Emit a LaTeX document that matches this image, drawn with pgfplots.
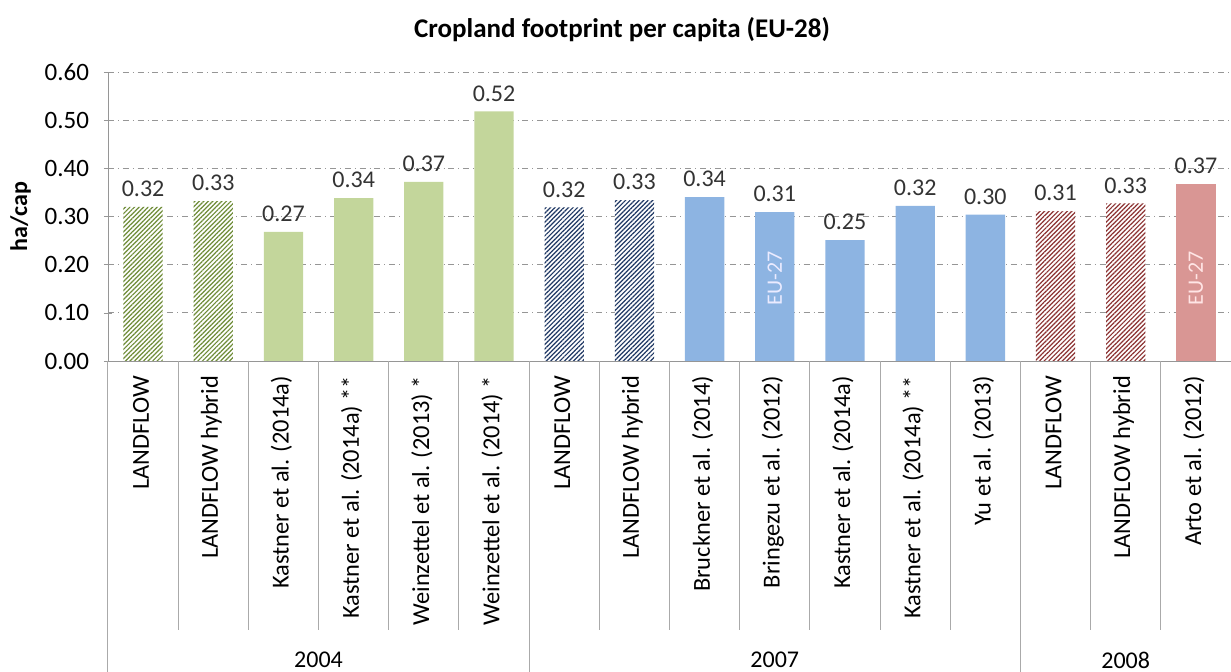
\documentclass[border=0pt]{standalone}
\usepackage{pgfplots}
\pgfplotsset{compat=1.18}
\usepackage{fontspec}
\setmainfont{Carlito}
\usetikzlibrary{patterns.meta}
\definecolor{gfill}{RGB}{195,214,155}
\definecolor{ghatch}{RGB}{110,140,55}
\definecolor{bfill}{RGB}{141,180,226}
\definecolor{bhatch}{RGB}{31,56,100}
\definecolor{rfill}{RGB}{217,150,148}
\definecolor{rhatch}{RGB}{140,50,50}
\definecolor{sepcol}{RGB}{170,170,170}
\definecolor{axcol}{RGB}{150,150,150}
\begin{document}
\begin{tikzpicture}
\useasboundingbox (0,0) rectangle (615.5pt,336pt);
\begin{axis}[
  at={(54pt,155.5pt)}, anchor=south west,
  scale only axis, width=561.5pt, height=144.5pt,
  xmin=-0.5, xmax=15.5, ymin=0, ymax=0.6,
  ytick={0,0.1,0.2,0.3,0.4,0.5,0.6},
  yticklabel style={font=\fontsize{12.5}{14}\selectfont, xshift=-4pt, /pgf/number format/fixed, /pgf/number format/fixed zerofill, /pgf/number format/precision=2, /pgf/number format/assume math mode=true},
  axis lines=left, axis line style={-, draw=axcol},
  ymajorgrids, grid style={dash dot, draw=axcol},
  xtick={0,...,15},
  xticklabels={LANDFLOW, LANDFLOW hybrid, Kastner et al. (2014a), Kastner et al. (2014a) **, Weinzettel et al. (2013) *, Weinzettel et al. (2014) *, LANDFLOW, LANDFLOW hybrid, Bruckner et al. (2014), Bringezu et al. (2012), Kastner et al. (2014a), Kastner et al. (2014a) **, Yu et al. (2013), LANDFLOW, LANDFLOW hybrid, Arto et al. (2012)},
  xticklabel style={rotate=90, anchor=east, font=\fontsize{12.2}{14}\selectfont, yshift=1pt},
  x tick style={draw=none},
  y tick style={draw=axcol},
  major tick length=4pt,
  ylabel={\textbf{ha/cap}},
  ylabel style={font=\fontsize{12}{14}\selectfont},
  ybar, bar width=0.56, bar shift=0pt,
  nodes near coords,
  nodes near coords style={font=\fontsize{12}{14}\selectfont, text=black!80, yshift=1.5pt, /pgf/number format/fixed, /pgf/number format/fixed zerofill, /pgf/number format/precision=2, /pgf/number format/assume math mode=true},
  clip=false,
]
\addplot[draw=none, fill=white, postaction={pattern={Lines[angle=45,distance=1.6pt,line width=0.6pt]}, pattern color=ghatch}] coordinates {(0,0.320) (1,0.332)};
\addplot[draw=none, fill=gfill] coordinates {(2,0.268) (3,0.338) (4,0.372) (5,0.518)};
\addplot[draw=none, fill=white, postaction={pattern={Lines[angle=45,distance=1.6pt,line width=0.6pt]}, pattern color=bhatch}] coordinates {(6,0.319) (7,0.334)};
\addplot[draw=none, fill=bfill] coordinates {(8,0.340) (9,0.309) (10,0.251) (11,0.322) (12,0.304)};
\addplot[draw=none, fill=white, postaction={pattern={Lines[angle=45,distance=1.6pt,line width=0.6pt]}, pattern color=rhatch}] coordinates {(13,0.311) (14,0.327)};
\addplot[draw=none, fill=rfill] coordinates {(15,0.367)};
\pgfplotsinvokeforeach{0.5,1.5,2.5,3.5,4.5,6.5,7.5,8.5,9.5,10.5,11.5,13.5,14.5}{
  \draw[sepcol, line width=0.5pt] (axis cs:#1,0) -- ([yshift=-134.5pt]axis cs:#1,0);
}
\pgfplotsinvokeforeach{-0.5,5.5,12.5,15.5}{
  \draw[sepcol, line width=0.5pt] (axis cs:#1,0) -- ([yshift=-156pt]axis cs:#1,0);
}
\node[font=\fontsize{12}{14}\selectfont] at (axis cs:2.5,0) [yshift=-149.5pt] {2004};
\node[font=\fontsize{12}{14}\selectfont] at (axis cs:9,0) [yshift=-149.5pt] {2007};
\node[font=\fontsize{12}{14}\selectfont] at (axis cs:14,0) [yshift=-149.5pt] {2008};
\node[rotate=90, font=\fontsize{11}{13}\selectfont, text=white!92!blue] at (axis cs:9,0.172) {EU-27};
\node[rotate=90, font=\fontsize{11}{13}\selectfont, text=white!90!red] at (axis cs:15,0.172) {EU-27};
\end{axis}
\node[font=\bfseries\fontsize{13.5}{16}\selectfont] at (311pt,321pt) {Cropland footprint per capita (EU-28)};
\end{tikzpicture}
\end{document}
